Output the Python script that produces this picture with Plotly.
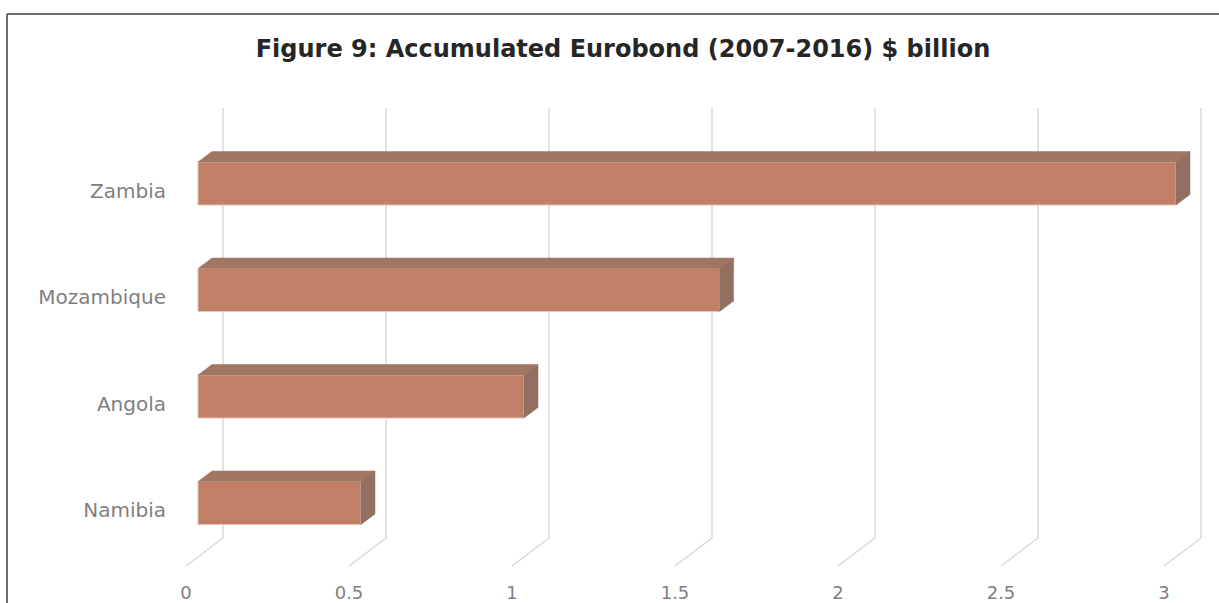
import plotly.graph_objects as go

# ---- data ----
countries = ["Namibia", "Angola", "Mozambique", "Zambia"]
values = [0.5, 1.0, 1.6, 3.0]
x_ticks = [0, 0.5, 1, 1.5, 2, 2.5, 3]
x_tick_labels = ["0", "0.5", "1", "1.5", "2", "2.5", "3"]
title_text = "Figure 9: Accumulated Eurobond (2007-2016) $ billion"

# ---- layout geometry (pixels -> data units) ----
PX_X = 326.0    # px per x unit
PX_Y = 106.5    # px per category
X0_PX = 186.0   # px of value 0 on floor front edge
CAT0_PX = 503.0 # px of first category bar centre
PLOT_L, PLOT_R = 170, 1219
PLOT_T, PLOT_B = 90, 580
W, H = 1219, 603

def xd(px):
    return (px - X0_PX) / PX_X

def yd(px):
    return (CAT0_PX - px) / PX_Y

DX = 37 / PX_X          # full depth in x
Y_FRONT = yd(566)
Y_BACK = yd(538)
Y_TOP = yd(108)

FX = 12 / PX_X          # bar front-face offset
BX = 14 / PX_X          # bar depth (x)
BY = 10.5 / PX_Y        # bar depth (y)
HALF = 21.5 / PX_Y      # half bar height

front_col = "#C27F68"
top_col = "#A07562"
side_col = "#916F61"
grid_col = "#D9D9D9"

fig = go.Figure()

# gridlines (floor slant + back wall vertical)
for v in x_ticks:
    fig.add_trace(go.Scatter(
        x=[v, v + DX, v + DX], y=[Y_FRONT, Y_BACK, Y_TOP],
        mode="lines", line=dict(color=grid_col, width=1.5),
        hoverinfo="skip", showlegend=False))

# bars
for i, (c, v) in enumerate(zip(countries, values)):
    x0, x1 = FX, FX + v
    yb, yt = i - HALF, i + HALF
    # front face
    fig.add_trace(go.Scatter(
        x=[x0, x1, x1, x0, x0], y=[yb, yb, yt, yt, yb],
        fill="toself", fillcolor=front_col, mode="lines",
        line=dict(color="#E6C2B4", width=1),
        name=c, hovertemplate=f"{c}: {v}<extra></extra>", showlegend=False))
    # top face
    fig.add_trace(go.Scatter(
        x=[x0, x1, x1 + BX, x0 + BX, x0], y=[yt, yt, yt + BY, yt + BY, yt],
        fill="toself", fillcolor=top_col, mode="lines",
        line=dict(color=top_col, width=0.5),
        hoverinfo="skip", showlegend=False))
    # side face
    fig.add_trace(go.Scatter(
        x=[x1, x1 + BX, x1 + BX, x1, x1], y=[yb, yb + BY, yt + BY, yt, yb],
        fill="toself", fillcolor=side_col, mode="lines",
        line=dict(color=side_col, width=0.5),
        hoverinfo="skip", showlegend=False))

pw = PLOT_R - PLOT_L
ph = PLOT_B - PLOT_T

def paper_x(px):
    return (px - PLOT_L) / pw

def paper_y(py):
    return (PLOT_B - py) / ph

fig.update_layout(
    width=W, height=H,
    margin=dict(l=PLOT_L, r=W - PLOT_R, t=PLOT_T, b=H - PLOT_B),
    paper_bgcolor="white", plot_bgcolor="white",
    title=dict(text=title_text, x=623 / W, xanchor="center",
               y=1 - 49 / H, yanchor="middle", yref="container",
               font=dict(family="DejaVu Sans", size=24, color="#262626", weight="bold")),
    xaxis=dict(range=[xd(PLOT_L), xd(PLOT_R)], tickvals=x_ticks, ticktext=x_tick_labels,
               showgrid=False, zeroline=False, showline=False, ticks="",
               tickfont=dict(family="DejaVu Sans", size=18, color="#7F7F7F")),
    yaxis=dict(range=[yd(PLOT_B), yd(PLOT_T)],
               tickvals=[i - 7 / PX_Y for i in range(len(countries))], ticktext=countries,
               showgrid=False, zeroline=False, showline=False, ticks="",
               ticklabelstandoff=3,
               tickfont=dict(family="DejaVu Sans", size=20, color="#7F7F7F")),
    shapes=[
        dict(type="line", xref="paper", yref="paper",
             x0=paper_x(7), x1=paper_x(1225), y0=paper_y(14), y1=paper_y(14),
             line=dict(color="#6E6E6E", width=2)),
        dict(type="line", xref="paper", yref="paper",
             x0=paper_x(7), x1=paper_x(7), y0=paper_y(14), y1=paper_y(610),
             line=dict(color="#6E6E6E", width=2)),
    ],
)

fig.write_html("out.html")
